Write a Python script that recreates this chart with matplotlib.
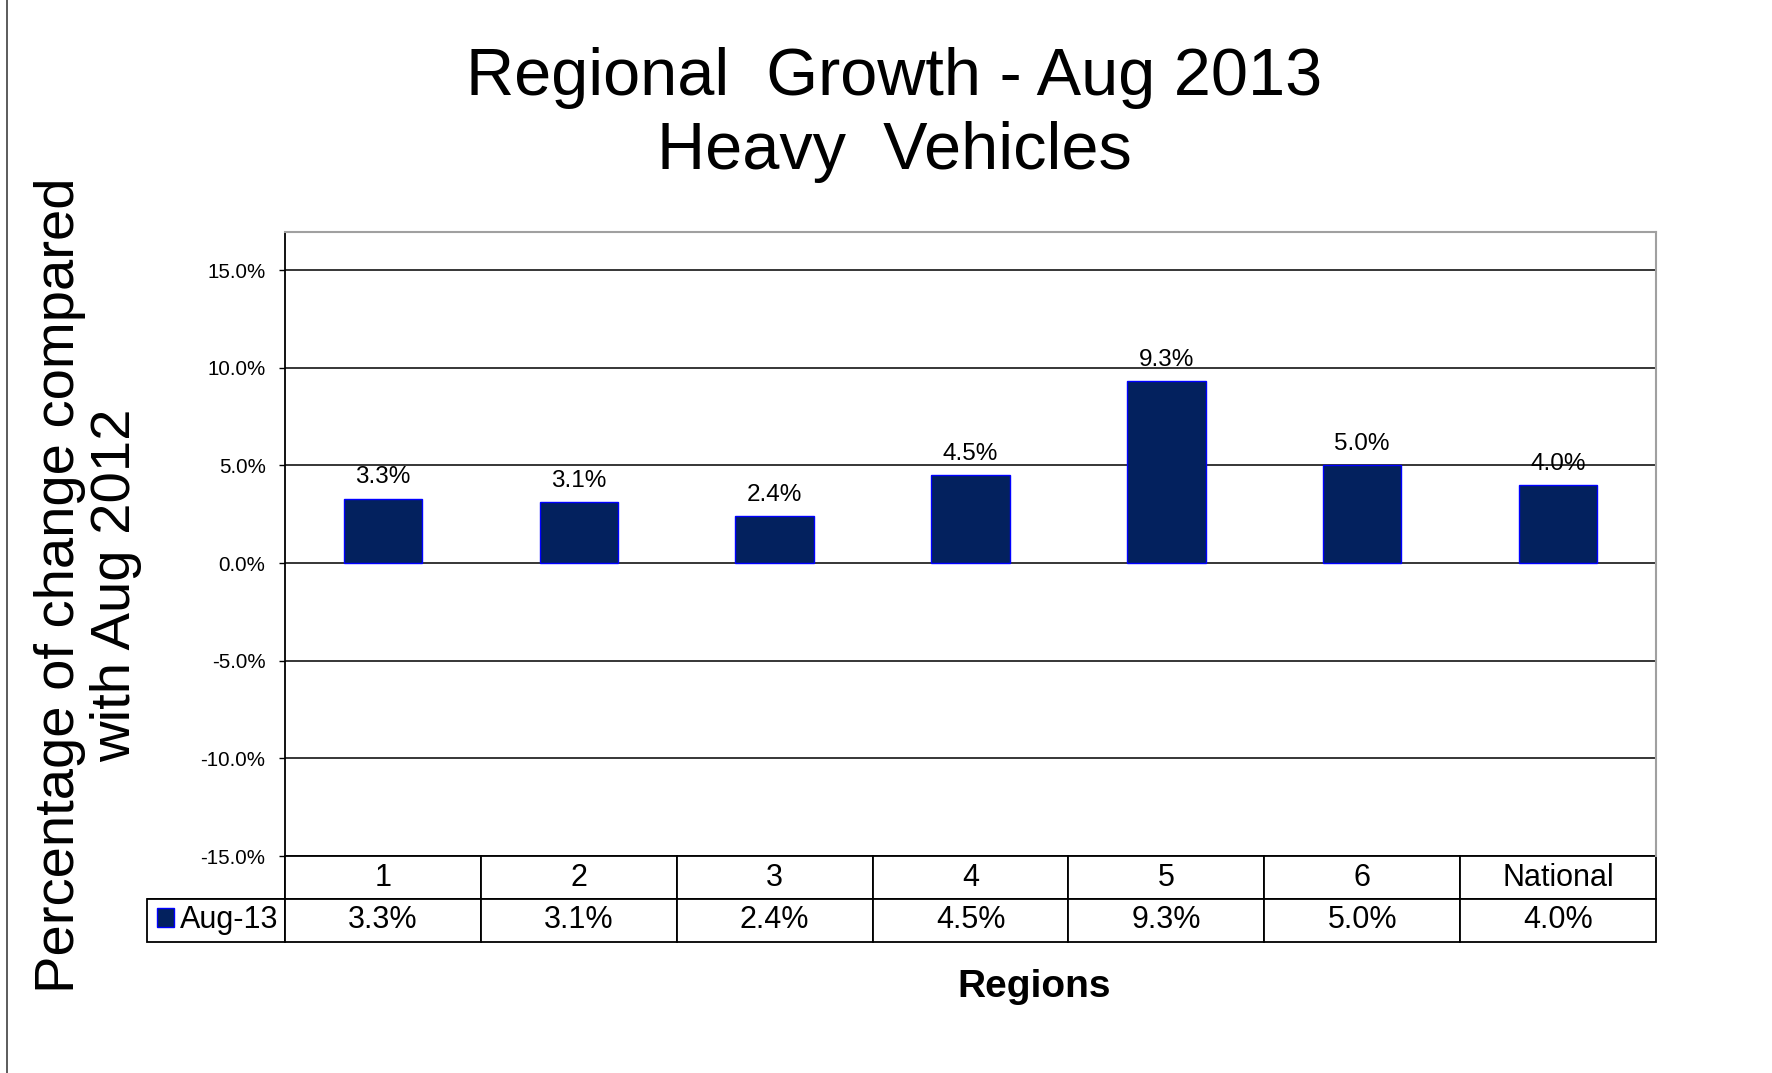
import numpy as np
import matplotlib
matplotlib.use("Agg")
import matplotlib.pyplot as plt
from matplotlib.lines import Line2D
from matplotlib.ticker import FuncFormatter

plt.rcParams['font.family'] = ['Liberation Sans', 'DejaVu Sans']

# data
regions = ['1', '2', '3', '4', '5', '6', 'National']
growth = [3.3, 3.1, 2.4, 4.5, 9.3, 5.0, 4.0]
series_name = 'Aug-13'
yticks = [-15, -10, -5, 0, 5, 10, 15]

W, H = 1772, 1073
fig = plt.figure(figsize=(W / 100, H / 100), dpi=100)
ax = fig.add_axes([285 / W, 1 - 856 / H, (1656 - 285) / W, (856 - 232) / H])

x = np.arange(len(regions))
bars = ax.bar(x, growth, width=0.4, color='#03215E', edgecolor='#0000FF',
              linewidth=1.0, label=series_name, zorder=3)

for xi, v in zip(x, growth):
    ax.annotate('%.1f%%' % v, (xi, v), xytext=(0, 11), textcoords='offset points',
                ha='center', va='baseline', fontsize=17.5, zorder=4)

ax.set_xlim(-0.5, len(regions) - 0.5)
ax.set_ylim(-15, 16.95)
ax.set_yticks(yticks)
ax.yaxis.set_major_formatter(FuncFormatter(lambda v, p: '%.1f%%' % v))
ax.tick_params(axis='y', labelsize=14.8, length=4, width=1, pad=10, direction='out')
ax.set_xticks([])
ax.grid(axis='y', color='black', linewidth=1.1, zorder=1)

ax.spines['left'].set_color('black')
ax.spines['left'].set_linewidth(1.3)
ax.spines['bottom'].set_visible(False)
for s in ['top', 'right']:
    ax.spines[s].set_color('#A0A0A0')
    ax.spines[s].set_linewidth(1.5)

# data table under the plot
lab_w = (285 - 147) / (1656 - 285)
tbl = ax.table(cellText=[[''] + ['%.1f%%' % v for v in growth]],
               colLabels=[''] + regions,
               colWidths=[lab_w] + [1 / len(regions)] * len(regions),
               cellLoc='center',
               bbox=[-lab_w, -86 / 624, 1 + lab_w, 86 / 624])
tbl.auto_set_font_size(False)
tbl.set_fontsize(22)
for (r, c), cell in tbl.get_celld().items():
    cell.set_linewidth(1.3)
    cell.set_edgecolor('black')
tbl[(0, 0)].visible_edges = 'BR'

ax.legend(handles=[bars], loc='center left', bbox_to_anchor=(157 / W, 1 - 920 / H),
          bbox_transform=fig.transFigure, frameon=False, fontsize=22,
          handlelength=0.55, handleheight=0.6, handletextpad=0.2,
          borderpad=0, borderaxespad=0)

fig.text(894 / W, 1 - 95 / H, 'Regional  Growth - Aug 2013', fontsize=48,
         ha='center', va='baseline')
fig.text(894 / W, 1 - 169 / H, 'Heavy  Vehicles', fontsize=48,
         ha='center', va='baseline')
fig.text(88 / W, 1 - 585 / H, 'Percentage of change compared\nwith Aug 2012',
         fontsize=40.5, rotation=90, ha='center', va='center', linespacing=1.1)
fig.text(1034 / W, 1 - 997 / H, 'Regions', fontsize=28, fontweight='bold',
         ha='center', va='baseline')

fig.add_artist(Line2D([7 / W, 7 / W], [0, 1], color='#404040', linewidth=1.2))

fig.savefig('out.png', dpi=100)
